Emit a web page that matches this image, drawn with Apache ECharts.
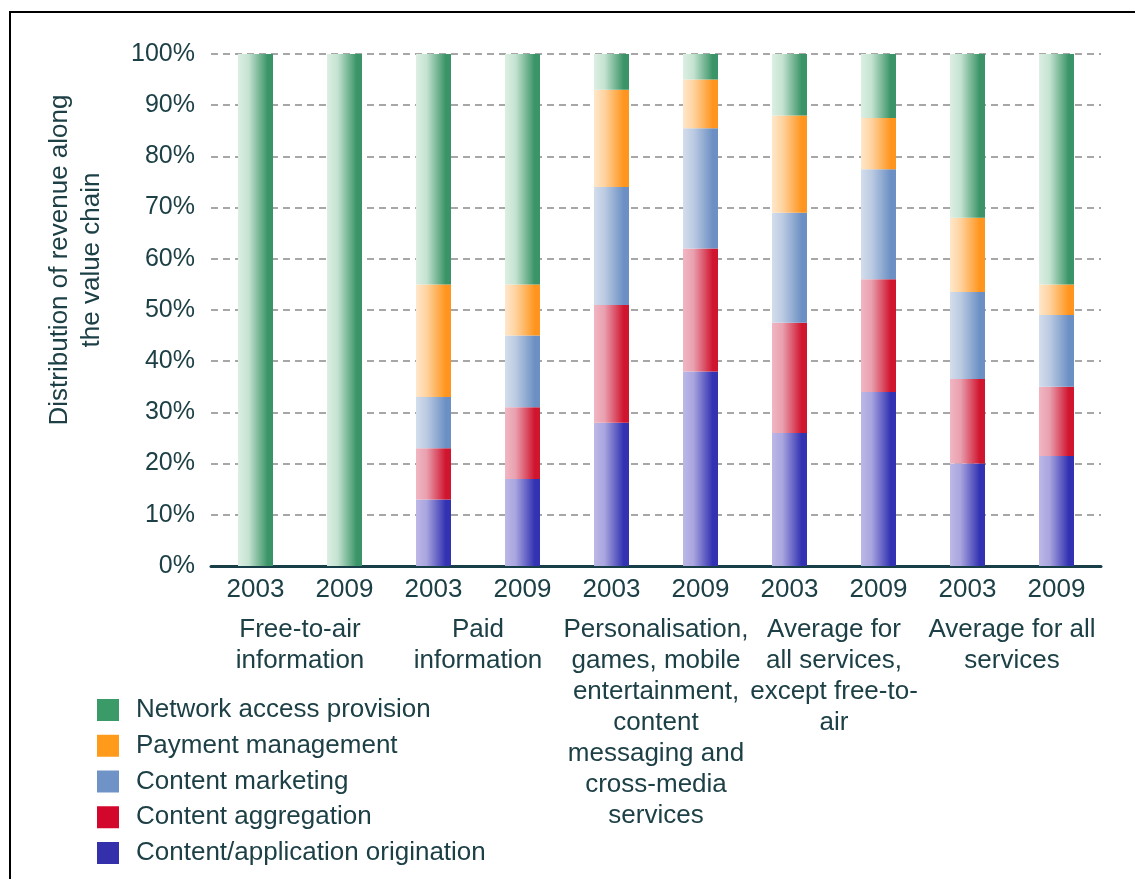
<!DOCTYPE html>
<html>
<head>
<meta charset="utf-8">
<title>Distribution of revenue along the value chain</title>
<script src="https://cdn.jsdelivr.net/npm/echarts@6/dist/echarts.min.js"></script>
<style>
  html, body { margin: 0; padding: 0; background: #ffffff; }
  #chart { width: 1135px; height: 879px; }
</style>
</head>
<body>
<div id="chart"></div>
<script>
// Year of each bar, two per service group
const years = ['2003', '2009', '2003', '2009', '2003', '2009', '2003', '2009', '2003', '2009'];

// Service groups, each spanning a 2003/2009 pair
const groups = [
  'Free-to-air\ninformation',
  'Paid\ninformation',
  'Personalisation,\ngames, mobile\nentertainment,\ncontent\nmessaging and\ncross-media\nservices',
  'Average for\nall services,\nexcept free-to-\nair',
  'Average for all\nservices'
];

// Share of revenue (%) per value-chain stage, stacked bottom to top
const origination = [0, 0, 13, 17, 28, 38, 26, 34, 20, 21.5];
const aggregation = [0, 0, 10, 14, 23, 24, 21.5, 22, 16.5, 13.5];
const marketing   = [0, 0, 10, 14, 23, 23.5, 21.5, 21.5, 17, 14];
const payment     = [0, 0, 22, 10, 19, 9.5, 19, 10, 14.5, 6];
const network     = [100, 100, 45, 45, 7, 5, 12, 12.5, 32, 45];

const yTicks = [0, 10, 20, 30, 40, 50, 60, 70, 80, 90, 100];

const FONT = '"Liberation Sans", Arial, Helvetica, sans-serif';
const TEXT = '#1d4046';

// Horizontal shading: pale on the left edge, saturated on the right
function shade(pale, mid, dark) {
  return new echarts.graphic.LinearGradient(0, 0, 1, 0, [
    { offset: 0, color: pale },
    { offset: 0.3, color: mid },
    { offset: 0.85, color: dark },
    { offset: 1, color: dark }
  ]);
}

const stages = [
  { name: 'Content/application origination', data: origination, solid: '#3430ac',
    fill: shade('#bcb8e6', '#a9a5df', '#3232b2') },
  { name: 'Content aggregation', data: aggregation, solid: '#d3072b',
    fill: shade('#f1b6c2', '#e9a0af', '#d0152f') },
  { name: 'Content marketing', data: marketing, solid: '#6f93c6',
    fill: shade('#d3ddec', '#bccbe2', '#6c90c4') },
  { name: 'Payment management', data: payment, solid: '#ff9a1a',
    fill: shade('#ffe7ca', '#ffd3a0', '#ff951e') },
  { name: 'Network access provision', data: network, solid: '#3a9a68',
    fill: shade('#dcefe3', '#c5e3d1', '#3a9467') }
];

const chart = echarts.init(document.getElementById('chart'), null, { renderer: 'canvas' });

chart.setOption({
  backgroundColor: '#ffffff',
  animation: false,
  textStyle: { fontFamily: FONT, color: TEXT },
  grid: { left: 211, right: 34, top: 54, bottom: 313 },
  graphic: [
    {
      type: 'rect',
      z: -10,
      shape: { x: 10, y: 12, width: 1140, height: 900 },
      style: { fill: 'none', stroke: '#000000', lineWidth: 2 }
    },
    {
      type: 'text',
      x: 76,
      y: 260,
      rotation: Math.PI / 2,
      style: {
        text: 'Distribution of revenue along\nthe value chain',
        fontFamily: FONT,
        fontSize: 26,
        lineHeight: 32,
        fill: TEXT,
        align: 'center',
        verticalAlign: 'middle'
      }
    }
  ],
  legend: {
    orient: 'vertical',
    left: 92,
    top: 692,
    height: 180,
    itemWidth: 22,
    itemHeight: 22,
    itemGap: 9.75,
    icon: 'rect',
    selectedMode: false,
    textStyle: { fontFamily: FONT, fontSize: 26, lineHeight: 25, color: TEXT, padding: [0, 0, 0, 12] },
    data: stages.slice().reverse().map(s => ({ name: s.name, itemStyle: { color: s.solid } }))
  },
  xAxis: [
    {
      type: 'category',
      data: years,
      axisLine: { lineStyle: { color: '#183e48', width: 3 } },
      axisTick: { show: false },
      axisLabel: { interval: 0, margin: 11, fontSize: 26, lineHeight: 26, color: TEXT, fontFamily: FONT }
    },
    {
      type: 'category',
      data: groups,
      position: 'bottom',
      axisLine: { show: false },
      axisTick: { show: false },
      axisLabel: { interval: 0, margin: 48, fontSize: 26, lineHeight: 31, color: TEXT, fontFamily: FONT, align: 'center' }
    }
  ],
  yAxis: {
    type: 'value',
    min: yTicks[0],
    max: yTicks[yTicks.length - 1],
    interval: 10,
    axisLine: { show: false },
    axisTick: { show: false },
    axisLabel: { margin: 16, fontSize: 25, color: TEXT, fontFamily: FONT, formatter: '{value}%' },
    splitLine: { lineStyle: { color: '#8a8a8a', width: 1.5, type: [7, 5] } }
  },
  series: stages.map(s => ({
    name: s.name,
    type: 'bar',
    stack: 'share',
    xAxisIndex: 0,
    barWidth: 35,
    data: s.data,
    itemStyle: { color: s.fill },
    emphasis: { disabled: true }
  }))
});
</script>
</body>
</html>
